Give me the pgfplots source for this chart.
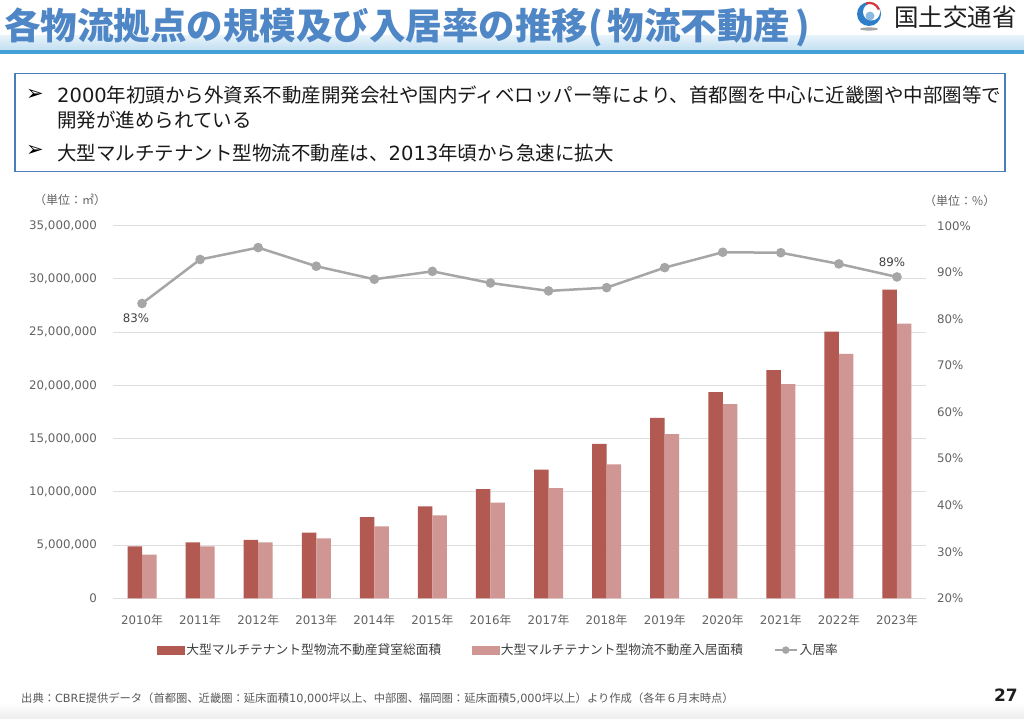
\documentclass[border=0pt]{standalone}
\usepackage{pgfplots}
\pgfplotsset{compat=1.18}
\usepackage{fontspec}
\setmainfont{DejaVu Sans}
\newfontfamily\cjk{Noto Sans CJK JP}
\newcommand{\fs}[1]{\fontsize{#1}{#1}\selectfont}
\definecolor{barDark}{HTML}{B25952}
\definecolor{barLight}{HTML}{D09694}
\definecolor{lineGray}{HTML}{A6A6A6}
\definecolor{gridc}{HTML}{DEDEDE}
\definecolor{tickc}{HTML}{636363}
\definecolor{labc}{HTML}{404040}
\definecolor{legc}{HTML}{404040}
\definecolor{titleblue}{HTML}{4F86C6}
\definecolor{boxblue}{HTML}{4A7EBB}
\definecolor{bandtop}{HTML}{E6F2FA}
\definecolor{bandbot}{HTML}{C3DFF1}
\definecolor{bandline}{HTML}{44A0D6}
\definecolor{logoblue}{HTML}{2E7FC8}
\definecolor{logored}{HTML}{D9363E}
\definecolor{foot}{HTML}{595959}
\begin{document}
\begin{tikzpicture}
\begin{scope}[x=1pt,y=-1pt]
  \fill[white] (0,0) rectangle (1024,719);
  \shade[top color=white, bottom color=black!7] (0,702) rectangle (1024,719);
  % title band
  \shade[top color=bandtop, bottom color=bandbot] (0,36) rectangle (1024,50);
  \fill[bandline] (0,50) rectangle (1024,54.5);
  \node[anchor=west, inner sep=0pt, font=\cjk\bfseries\fs{36.5}, text=titleblue] at (4,27) {各物流拠点の規模及び入居率の推移(\hspace{5pt}物流不動産\hspace{5pt})};
  % logo
  \fill[logoblue] (869,14) circle (12pt);
  \fill[white] (871.5,12) circle (8.5pt);
  \fill[logoblue!55] (870,16) circle (4.5pt);
  \draw[logored, line width=2.2pt] (866,3.5) arc (110:20:10pt);
  \fill[black!35] (869,29) ellipse (9pt and 1.6pt);
  \node[anchor=west, inner sep=0pt, font=\cjk\fs{24.5}, text=black!88] at (894,17) {国土交通省};
  % box
  \draw[boxblue, line width=1.4pt] (15,73.5) rectangle (1005,171.5);
  \node[font=\fs{21}, inner sep=0pt] at (35,95) {➢};
  \node[font=\fs{21}, inner sep=0pt] at (35,151) {➢};
  \node[anchor=west, inner sep=0pt, font=\fs{19.5}, text=black!90] at (57,95) {2000{\cjk 年初頭から外資系不動産開発会社や国内ディベロッパー等により、首都圏を中心に近畿圏や中部圏等で}};
  \node[anchor=west, inner sep=0pt, font=\cjk\fs{19.5}, text=black!90] at (57,120) {開発が進められている};
  \node[anchor=west, inner sep=0pt, font=\fs{19.5}, text=black!90] at (57,153) {{\cjk 大型マルチテナント型物流不動産は、}2013{\cjk 年頃から急速に拡大}};
  % units
  \node[anchor=west, inner sep=0pt, font=\cjk\fs{12}, text=tickc] at (34,200) {（単位：㎡）};
  \node[anchor=west, inner sep=0pt, font=\cjk\fs{12}, text=tickc] at (924,201) {（単位：\%）};
  % footer
  \node[anchor=west, inner sep=0pt, font=\fs{11.3}, text=foot] at (21,698) {{\cjk 出典：}CBRE{\cjk 提供データ（首都圏、近畿圏：延床面積}10,000{\cjk 坪以上、中部圏、福岡圏：延床面積}5,000{\cjk 坪以上）より作成（各年６月末時点）}};
  \node[anchor=east, inner sep=0pt, font=\bfseries\fs{17}, text=black!88] at (1018,695) {27};
\end{scope}

\begin{axis}[
  at={(113pt,-598.3pt)}, anchor=south west, scale only axis,
  width=813pt, height=372.6pt,
  xmin=-0.5, xmax=13.5, ymin=0, ymax=35000000,
  ybar=0pt, bar width=14.5pt,
  axis line style={draw=none},
  major tick length=0pt,
  ymajorgrids, grid style={gridc, line width=0.9pt},
  ytick={0,5000000,10000000,15000000,20000000,25000000,30000000,35000000},
  scaled y ticks=false,
  yticklabel style={/pgf/number format/.cd, fixed, precision=0, 1000 sep={,}, assume math mode=true, /tikz/.cd, font=\fs{11.8}, text=tickc, inner sep=0pt, anchor=east, xshift=-16pt},
  xtick={0,...,13},
  xticklabels={2010{\cjk 年},2011{\cjk 年},2012{\cjk 年},2013{\cjk 年},2014{\cjk 年},2015{\cjk 年},2016{\cjk 年},2017{\cjk 年},2018{\cjk 年},2019{\cjk 年},2020{\cjk 年},2021{\cjk 年},2022{\cjk 年},2023{\cjk 年}},
  xticklabel style={font=\fs{11.8}, text=tickc, inner sep=0pt, anchor=center, yshift=-22pt},
]
\addplot[fill=barDark, draw=none] coordinates {
(0,4880000) (1,5250000) (2,5500000) (3,6160000) (4,7630000) (5,8630000) (6,10260000)
(7,12080000) (8,14500000) (9,16950000) (10,19360000) (11,21430000) (12,25050000) (13,28990000)};
\addplot[fill=barLight, draw=none] coordinates {
(0,4100000) (1,4880000) (2,5250000) (3,5630000) (4,6760000) (5,7790000) (6,8980000)
(7,10350000) (8,12570000) (9,15420000) (10,18230000) (11,20130000) (12,22960000) (13,25800000)};
\end{axis}

\begin{axis}[
  at={(113pt,-598.3pt)}, anchor=south west, scale only axis,
  width=813pt, height=372.6pt,
  xmin=-0.5, xmax=13.5, ymin=20, ymax=100,
  axis line style={draw=none},
  major tick length=0pt,
  xtick=\empty,
  ytick={20,30,...,100},
  yticklabel pos=right,
  yticklabel={\pgfmathprintnumber[assume math mode=true]{\tick}\%},
  yticklabel style={font=\fs{11.8}, text=tickc, inner sep=0pt, anchor=west, xshift=11pt},
  legend style={at={(0.474,-0.139)}, anchor=center, draw=none, fill=none,
    font=\cjk\fs{12.75}, text=legc, nodes={inner sep=1.5pt},
    /tikz/every even column/.append style={column sep=29pt}},
  legend columns=3, legend cell align=left,
]
\addlegendimage{legend image code/.code={\fill[barDark] (0pt,-4pt) rectangle (27pt,4pt);}}
\addlegendentry{大型マルチテナント型物流不動産貸室総面積}
\addlegendimage{legend image code/.code={\fill[barLight] (0pt,-4pt) rectangle (27pt,4pt);}}
\addlegendentry{大型マルチテナント型物流不動産入居面積}
\addlegendimage{legend image code/.code={\draw[lineGray, line width=2.5pt] (0pt,0pt) -- (22pt,0pt); \fill[lineGray] (11pt,0pt) circle (3.5pt);}}
\addlegendentry{入居率}
\addplot[forget plot, lineGray, line width=2.5pt, mark=*, mark size=3.5pt, mark options={fill=lineGray, draw=lineGray}] coordinates {
(0,83.3) (1,92.75) (2,95.3) (3,91.3) (4,88.5) (5,90.2) (6,87.7) (7,86.0) (8,86.7) (9,91.0) (10,94.3) (11,94.2) (12,91.8) (13,89.0)};
\node[font=\fs{11.8}, text=labc, xshift=-6pt, yshift=-14.5pt] at (axis cs:0,83.3) {83\%};
\node[font=\fs{11.8}, text=labc, xshift=-5pt, yshift=14.5pt] at (axis cs:13,89.0) {89\%};
\end{axis}
\end{tikzpicture}
\end{document}
